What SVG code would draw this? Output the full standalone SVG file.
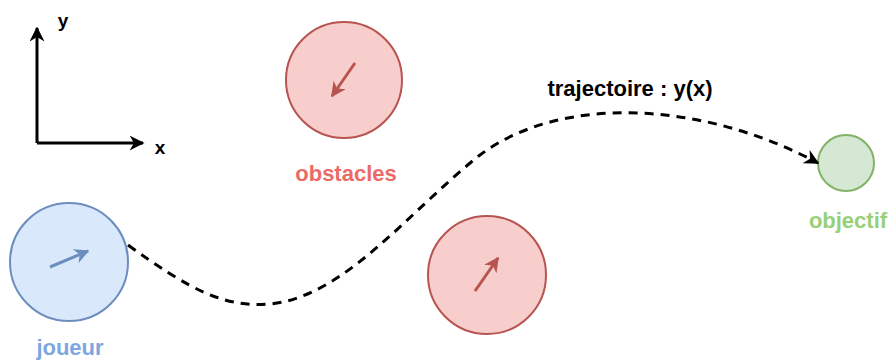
<svg xmlns="http://www.w3.org/2000/svg" width="893" height="362" viewBox="0 0 893 362">
<defs>
<marker id="ah" viewBox="0 0 10 10" refX="9" refY="5" markerWidth="5" markerHeight="5" orient="auto" markerUnits="strokeWidth">
<path d="M0,0 L10,5 L0,10 L3,5 Z" fill="#000"/>
</marker>
<marker id="ahb" viewBox="0 0 10 10" refX="9" refY="5" markerWidth="5" markerHeight="5" orient="auto" markerUnits="strokeWidth">
<path d="M0,0 L10,5 L0,10 L3,5 Z" fill="#6c8ebf"/>
</marker>
<marker id="ahr" viewBox="0 0 10 10" refX="9" refY="5" markerWidth="5" markerHeight="5" orient="auto" markerUnits="strokeWidth">
<path d="M0,0 L10,5 L0,10 L3,5 Z" fill="#b85450"/>
</marker>
</defs>
<style>
text{font-family:"Liberation Sans",Arial,sans-serif;font-weight:bold;text-anchor:middle}
.lbl{font-size:22px}
.blue{fill:#dae8fc;stroke:#6c8ebf;stroke-width:2}
.red{fill:#f8cecc;stroke:#b85450;stroke-width:2}
.green{fill:#d5e8d4;stroke:#82b366;stroke-width:2}
</style>
<rect width="893" height="362" fill="#fff"/>
<g id="axes" fill="none" stroke="#000" stroke-width="3">
<path d="M37,143 V28" marker-end="url(#ah)"/>
<path d="M37,143 H143" marker-end="url(#ah)"/>
</g>
<text x="63" y="27" style="font-size:19px" fill="#000">y</text>
<text x="160" y="154" style="font-size:19px" fill="#000">x</text>
<g id="joueur">
<circle cx="69" cy="262" r="59" class="blue"/>
<line x1="50" y1="267" x2="88" y2="251" stroke="#6c8ebf" stroke-width="3" marker-end="url(#ahb)"/>
<text x="70" y="355" class="lbl" fill="#7ea6e0">joueur</text>
</g>
<g id="obstacle1">
<circle cx="344" cy="80" r="58" class="red"/>
<line x1="355" y1="63" x2="332" y2="96" stroke="#b85450" stroke-width="3" marker-end="url(#ahr)"/>
<text x="346" y="181" class="lbl" fill="#ea6b66">obstacles</text>
</g>
<g id="obstacle2">
<circle cx="487" cy="275" r="59" class="red"/>
<line x1="475" y1="291" x2="498" y2="258" stroke="#b85450" stroke-width="3" marker-end="url(#ahr)"/>
</g>
<g id="objectif">
<circle cx="846" cy="163" r="28" class="green"/>
<text x="848" y="228" class="lbl" fill="#97d077">objectif</text>
</g>
<g id="connectors">
<path d="M128,245 C190,290 225,308 270,304 C345,297 410,210 480,155 C560,95 700,100 818,163" fill="none" stroke="#000" stroke-width="3" stroke-dasharray="9,7" marker-end="url(#ah)"/>
<text x="630" y="96" style="font-size:22px" fill="#000">trajectoire : y(x)</text>
</g>
</svg>
